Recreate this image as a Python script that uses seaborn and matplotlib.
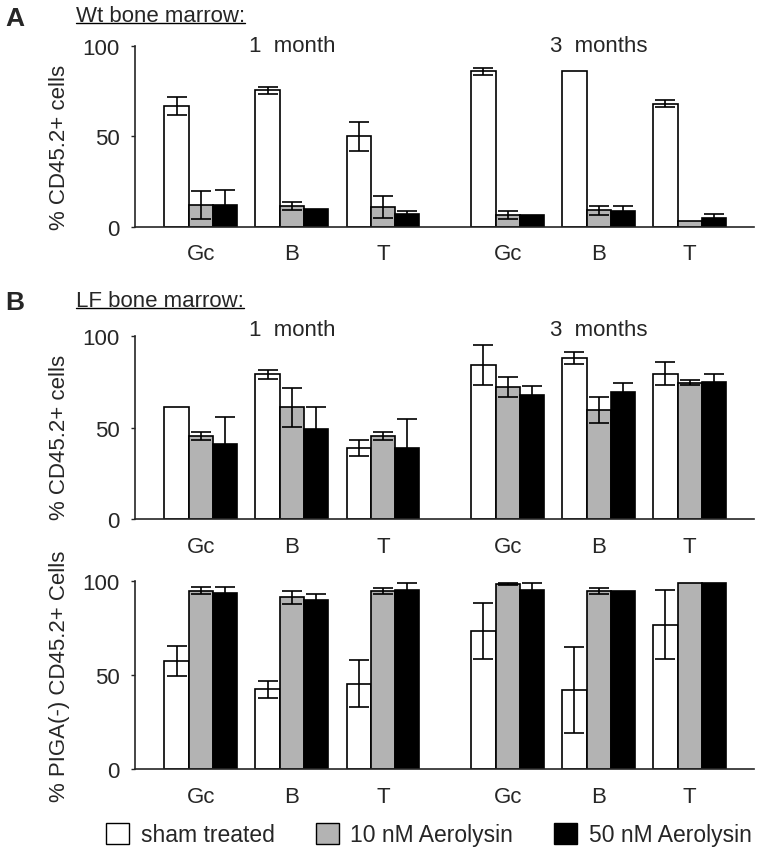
import numpy as np
import pandas as pd
import matplotlib
matplotlib.use('Agg')
import matplotlib.pyplot as plt
from matplotlib.patches import Patch
from matplotlib.lines import Line2D
import seaborn as sns

# cell types, 1 month then 3 months
cells = ['Gc', 'B', 'T', 'Gc', 'B', 'T']
treatments = ['sham treated', '10 nM Aerolysin', '50 nM Aerolysin']

# A: Wt bone marrow, % CD45.2+ cells
wt_sham = [67, 75.5, 50, 86, 86, 68]
wt_sham_err = [5, 2, 8, 2, 0, 2]
wt_10 = [12, 11.5, 11, 6.5, 9, 3]
wt_10_err = [7.5, 2, 6, 2, 2.5, 0]
wt_50 = [12, 10, 7, 6.5, 8.5, 5]
wt_50_err = [8.5, 0, 1.5, 0, 3, 2]

# B: LF bone marrow, % CD45.2+ cells
lf_sham = [61, 79, 39, 84, 88, 79.5]
lf_sham_err = [0, 2.5, 4.5, 11, 3.5, 6.5]
lf_10 = [45.5, 61, 45.5, 72, 59.5, 74.5]
lf_10_err = [2, 10.5, 2, 5.5, 7, 1.5]
lf_50 = [41, 49, 39, 68, 69.5, 75]
lf_50_err = [15, 12, 15.5, 4.5, 5, 4.5]

# B: LF bone marrow, % PIGA(-) CD45.2+ cells
piga_sham = [57.5, 42.5, 45.5, 73.5, 42, 77]
piga_sham_err = [8, 4.5, 12.5, 15, 23, 18.5]
piga_10 = [95, 91.5, 95, 98.5, 95, 99]
piga_10_err = [2, 3.5, 1.5, 0.5, 1.5, 0]
piga_50 = [94, 90, 95.5, 95.5, 95, 99]
piga_50_err = [3, 3.5, 3.5, 3.5, 0, 0]

# group centres on the x axis (gap between 1 and 3 months)
group_pos = [0, 1, 2, 3.37, 4.37, 5.37]

colors = {'sham treated': 'white', '10 nM Aerolysin': '#b3b3b3', '50 nM Aerolysin': 'black'}

sns.set_style('ticks')
plt.rcParams['font.family'] = ['Liberation Sans', 'DejaVu Sans']


def make_df(sham, s_err, t10, e10, t50, e50):
    rows = []
    for vals, errs, tr in [(sham, s_err, treatments[0]), (t10, e10, treatments[1]), (t50, e50, treatments[2])]:
        for p, v, e in zip(group_pos, vals, errs):
            rows.append({'pos': p, 'value': v, 'err': e, 'treatment': tr})
    return pd.DataFrame(rows)


def draw_panel(ax, df, ylabel, title_y, label_y):
    sns.barplot(data=df, x='pos', y='value', hue='treatment', hue_order=treatments,
                palette=colors, native_scale=True, width=0.8, errorbar=None,
                edgecolor='black', linewidth=1.2, legend=False, ax=ax)
    w = 0.8 / 3
    for i, tr in enumerate(treatments):
        sub = df[(df['treatment'] == tr) & (df['err'] > 0)]
        ax.errorbar(sub['pos'] + (i - 1) * w, sub['value'], yerr=sub['err'],
                    fmt='none', ecolor='black', elinewidth=1.2, capsize=7.5, capthick=1.2)
    ax.set_xlim(-0.725, 6.08)
    ax.set_ylim(0, 100)
    ax.set_yticks([0, 50, 100])
    ax.set_xticks(group_pos)
    ax.set_xticklabels(cells)
    ax.tick_params(axis='x', length=0, pad=12, labelsize=16)
    ax.tick_params(axis='y', length=3, width=1, pad=8, labelsize=16)
    ax.set_xlabel('')
    ax.set_ylabel(ylabel, fontsize=16)
    ax.yaxis.set_label_coords(-0.105, label_y)
    sns.despine(ax=ax)
    for s in ['left', 'bottom']:
        ax.spines[s].set_linewidth(1.2)
    if title_y is not None:
        ax.text(1, title_y, '1  month', ha='center', va='center', fontsize=16)
        ax.text(4.37, title_y, '3  months', ha='center', va='center', fontsize=16)


fig = plt.figure(figsize=(7.62, 8.53), dpi=100)
ax_a = fig.add_axes([0.177, 0.733, 0.813, 0.212])
ax_b1 = fig.add_axes([0.177, 0.390, 0.813, 0.215])
ax_b2 = fig.add_axes([0.177, 0.0973, 0.813, 0.22])

draw_panel(ax_a, make_df(wt_sham, wt_sham_err, wt_10, wt_10_err, wt_50, wt_50_err),
           '% CD45.2+ cells', 100, 0.445)
draw_panel(ax_b1, make_df(lf_sham, lf_sham_err, lf_10, lf_10_err, lf_50, lf_50_err),
           '% CD45.2+ cells', 103.5, 0.45)
draw_panel(ax_b2, make_df(piga_sham, piga_sham_err, piga_10, piga_10_err, piga_50, piga_50_err),
           '% PIGA(-) CD45.2+ Cells', None, 0.5)

fig.text(0.019, 0.978, 'A', fontsize=19, fontweight='bold', ha='center', va='center')
fig.text(0.020, 0.645, 'B', fontsize=19, fontweight='bold', ha='center', va='center')
t1 = fig.text(0.0997, 0.9746, 'Wt bone marrow:', fontsize=16, va='baseline')
t2 = fig.text(0.0997, 0.640, 'LF bone marrow:', fontsize=16, va='baseline')

# underline the panel subtitles
fig.canvas.draw()
for t in [t1, t2]:
    bb = t.get_window_extent().transformed(fig.transFigure.inverted())
    y = t.get_position()[1] - 2.0 / 853
    fig.add_artist(Line2D([bb.x0, bb.x1], [y, y], color='black', lw=1.0,
                          transform=fig.transFigure))

handles = [Patch(facecolor=colors[t], edgecolor='black', linewidth=1.0) for t in treatments]
fig.legend(handles, treatments, loc='center', bbox_to_anchor=(0.563, 0.02), ncol=3,
           frameon=False, fontsize=16.5, handlelength=1.0, handleheight=1.0,
           handletextpad=0.5, columnspacing=1.8)

fig.savefig('out.png', dpi=100)
